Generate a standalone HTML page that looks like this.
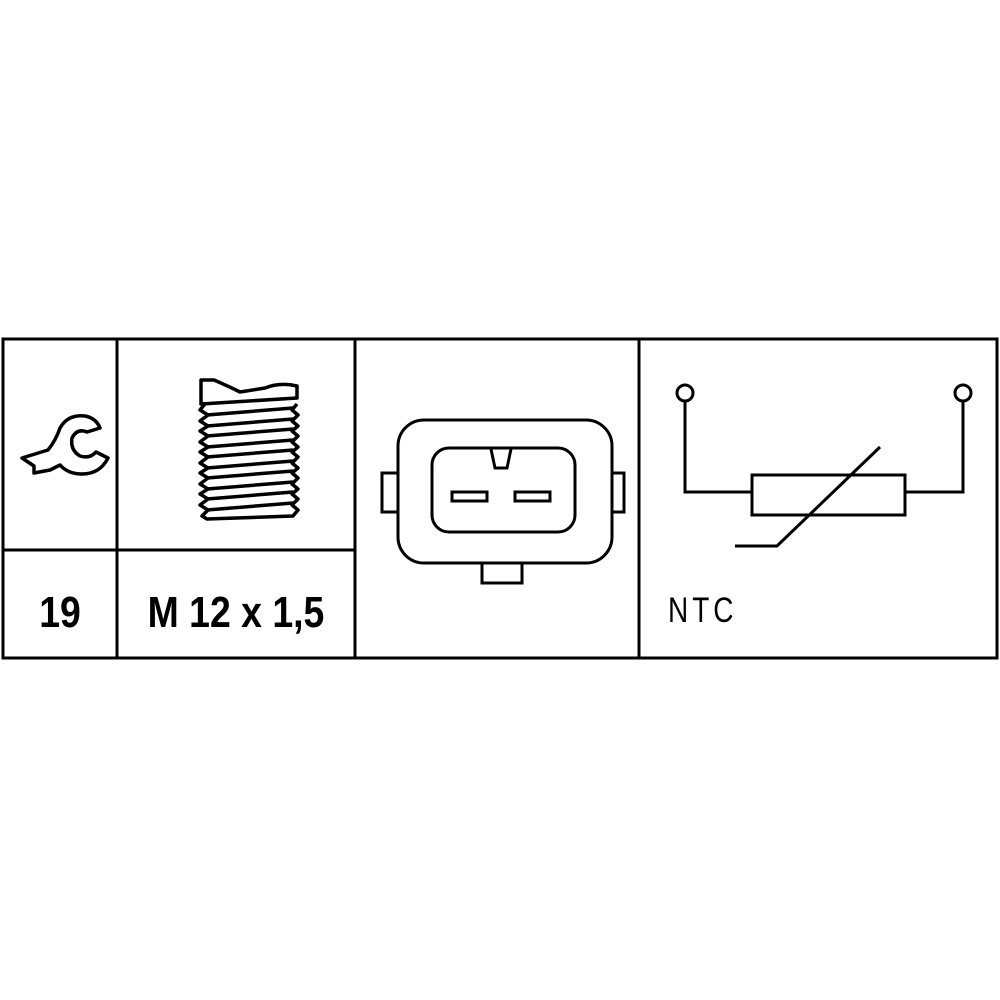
<!DOCTYPE html>
<html><head><style>html,body{margin:0;padding:0;background:#fff}svg{display:block}</style></head>
<body>
<svg width="1000" height="1000" viewBox="0 0 1000 1000" xmlns="http://www.w3.org/2000/svg">
<g fill="none" stroke="#000" stroke-width="3">
<rect x="3" y="339" width="994" height="319"/>
<line x1="117" y1="339" x2="117" y2="658"/>
<line x1="355" y1="339" x2="355" y2="658"/>
<line x1="639" y1="339" x2="639" y2="658"/>
<line x1="3" y1="550" x2="355" y2="550"/>
</g>
<!-- wrench -->
<path d="M22,458 L48,450 Q56,440 60,428 Q68,414 85,416 Q96,418 100,428 L87,432 Q77,428 72,438 Q70,450 80,456 Q90,459 96,452 L108,458 Q100,474 82,474 Q68,474 60,465 L50,470 L34,473 L34,466 Z" fill="none" stroke="#000" stroke-width="3.5" stroke-linejoin="round"/>
<!-- thread -->
<g stroke="#000" stroke-width="3.5" fill="none" stroke-linejoin="round">
<path d="M201,380 L214,380 Q228,386 240,392 L265,388 Q280,382 297,386 L297,398 L201,404 Z"/>
<path d="M205,404 L200,410 L208,415 L200,421 L208,426 L200,431 L208,436 L200,442 L208,447 L200,452 L208,457 L200,463 L208,468 L200,473 L208,478 L200,484 L208,489 L200,494 L208,499 L200,505 L208,510 L202,516 L207,519 L293,516 L298,510 L292,505 L298,499 L292,494 L298,489 L292,484 L298,478 L292,473 L298,468 L292,463 L298,457 L292,452 L298,447 L292,442 L298,436 L292,431 L298,426 L292,421 L298,415 L292,410 L297,404"/>
<path d="M207,415 L293,408 M207,426 L293,419 M207,436 L293,429 M207,447 L293,440 M207,457 L293,450 M207,468 L293,461 M207,478 L293,471 M207,489 L293,482 M207,499 L293,492 M207,510 L293,503"/>
</g>
<text x="60" y="627" font-family="Liberation Sans, sans-serif" font-weight="bold" font-size="44" text-anchor="middle" transform="translate(60,0) scale(0.85,1) translate(-60,0)">19</text>
<text x="236" y="627" font-family="Liberation Sans, sans-serif" font-weight="bold" font-size="44" text-anchor="middle" transform="translate(236,0) scale(0.85,1) translate(-236,0)">M 12 x 1,5</text>
<!-- connector -->
<g fill="none" stroke="#000" stroke-width="3">
<rect x="398" y="420" width="214" height="143" rx="26"/>
<rect x="382" y="473" width="16" height="39"/>
<rect x="612" y="473" width="12" height="39"/>
<rect x="482" y="563" width="40" height="20"/>
<rect x="432" y="448" width="143" height="84" rx="17"/>
<path d="M491,449 L495,468 L507,468 L511,449"/>
<rect x="452" y="492" width="35" height="9"/>
<rect x="515" y="492" width="35" height="9"/>
</g>
<!-- NTC -->
<g fill="none" stroke="#000" stroke-width="3">
<circle cx="685" cy="393" r="8"/>
<circle cx="963" cy="393" r="8"/>
<polyline points="685,401 685,492 752,492"/>
<polyline points="963,401 963,492 905,492"/>
<rect x="752" y="475" width="153" height="40"/>
<polyline points="880,447 777,546 735,546"/>
</g>
<text x="668" y="622" font-family="Liberation Sans, sans-serif" font-size="35" letter-spacing="5" transform="translate(668,0) scale(0.8,1) translate(-668,0)">NTC</text>
</svg>
</body></html>
